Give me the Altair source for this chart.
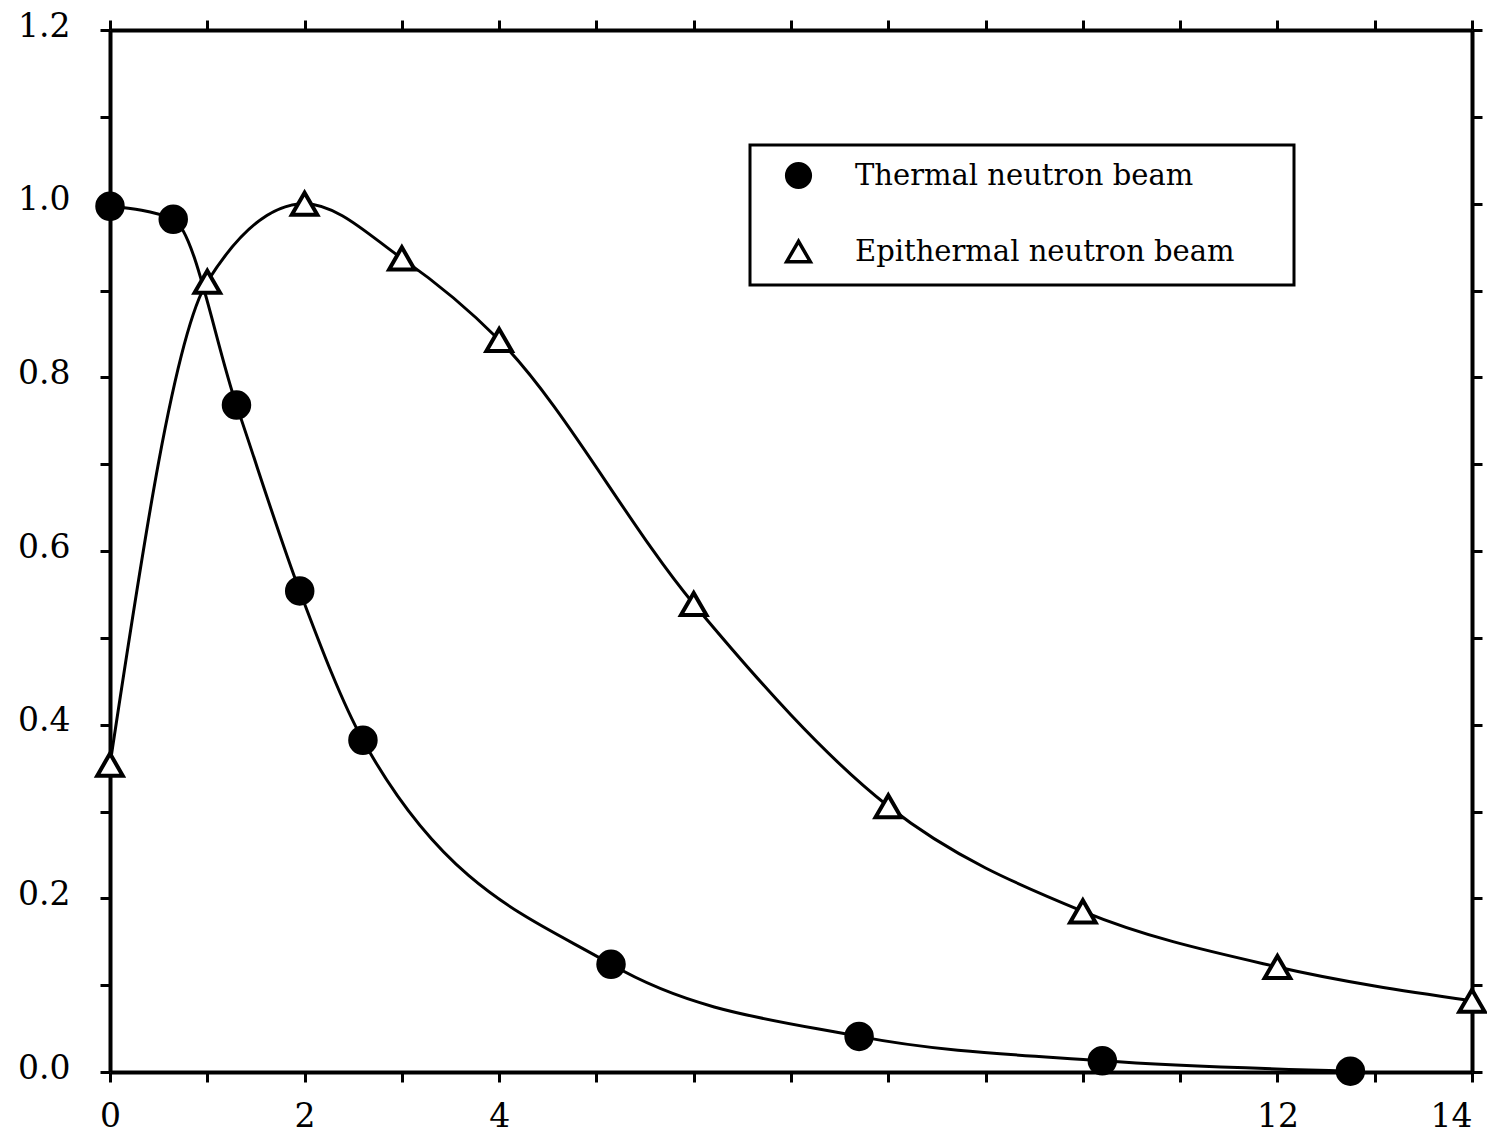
import altair as alt
import pandas as pd

# Thermal neutron beam (filled circles)
thermal_x = [0.0, 0.65, 1.3, 1.95, 2.6, 5.15, 7.7, 10.2, 12.75]
thermal_y = [0.997, 0.982, 0.768, 0.554, 0.382, 0.124, 0.041, 0.013, 0.001]

# Epithermal neutron beam (open triangles)
epi_x = [0.0, 1.0, 2.0, 3.0, 4.0, 6.0, 8.0, 10.0, 12.0, 14.0]
epi_y = [0.354, 0.910, 1.0, 0.937, 0.843, 0.539, 0.306, 0.185, 0.121, 0.082]

series_names = ["Thermal neutron beam", "Epithermal neutron beam"]
x_tick_values = list(range(0, 15))
x_label_values = [0, 2, 4, 12, 14]
y_tick_values = [round(i * 0.1, 1) for i in range(0, 13)]
y_label_values = [0.0, 0.2, 0.4, 0.6, 0.8, 1.0, 1.2]

df = pd.concat([
    pd.DataFrame({"x": thermal_x, "y": thermal_y, "series": series_names[0]}),
    pd.DataFrame({"x": epi_x, "y": epi_y, "series": series_names[1]}),
])

FONT = "DejaVu Serif"
xscale = alt.Scale(domain=[0, 14], nice=False, zero=False)
yscale = alt.Scale(domain=[0, 1.2], nice=False)

x_label_expr = " || ".join(f"datum.value == {v}" for v in x_label_values)
x_label_expr = f"({x_label_expr}) ? datum.label : ''"
y_label_expr = " || ".join(f"abs(datum.value - {v}) < 0.001" for v in y_label_values)
y_label_expr = f"({y_label_expr}) ? format(datum.value, '.1f') : ''"

common_axis = dict(
    grid=False, domainColor="black", domainWidth=4, tickColor="black",
    tickWidth=3, tickSize=10, labelFont=FONT, labelFontSize=33,
    labelColor="black", title=None,
)

x_bottom = alt.Axis(orient="bottom", values=x_tick_values, labelExpr=x_label_expr,
                    labelPadding=18, labelFlush=False,
                    labelAlign={"condition": {"test": f"datum.value == {x_label_values[-1]}",
                                              "value": "right"}, "value": "center"},
                    **common_axis)
y_left = alt.Axis(orient="left", values=y_tick_values, labelExpr=y_label_expr,
                  labelPadding=30, labelOffset=-4, **common_axis)
x_top = alt.Axis(orient="top", values=x_tick_values, labels=False, **common_axis)
y_right = alt.Axis(orient="right", values=y_tick_values, labels=False, **common_axis)

lines = alt.Chart(df).mark_line(
    interpolate="monotone", color="black", strokeWidth=3
).encode(
    x=alt.X("x:Q", scale=xscale, axis=x_bottom),
    y=alt.Y("y:Q", scale=yscale, axis=y_left),
    detail="series:N",
)

mirror = alt.Chart(df).mark_line(opacity=0).encode(
    x=alt.X("x:Q", scale=xscale, axis=x_top),
    y=alt.Y("y:Q", scale=yscale, axis=y_right),
    detail="series:N",
)

legend = alt.Legend(title=None, orient="none", legendX=640, legendY=115,
                    labelExpr="datum.label + '\u2800\u2800'")

points = alt.Chart(df).mark_point(
    filled=True, strokeWidth=4, opacity=1, size=650
).encode(
    x=alt.X("x:Q", scale=xscale, axis=None),
    y=alt.Y("y:Q", scale=yscale, axis=None),
    shape=alt.Shape("series:N", scale=alt.Scale(domain=series_names,
                    range=["circle", "triangle-up"]), legend=legend),
    fill=alt.Fill("series:N", scale=alt.Scale(domain=series_names,
                  range=["black", "white"]), legend=legend),
    stroke=alt.Stroke("series:N", scale=alt.Scale(domain=series_names,
                      range=["black", "black"]), legend=legend),
)

chart = alt.layer(lines, mirror, points).resolve_axis(
    x="independent", y="independent"
).properties(
    width=1362, height=1042,
    autosize=alt.AutoSizeParams(type="none"),
    padding={"left": 102, "top": 22, "right": 15, "bottom": 62},
    background="white",
).configure_view(
    strokeWidth=0
).configure_legend(
    fillColor="white", strokeColor="black", strokeWidth=3, padding=16,
    labelFont=FONT, labelFontSize=29, labelColor="black", labelOffset=42,
    symbolSize=560, symbolStrokeWidth=3.5,
    symbolOffset=18, rowPadding=39, labelLimit=700,
)

chart.save("out.html", embed_options={"renderer": "svg", "actions": False})
